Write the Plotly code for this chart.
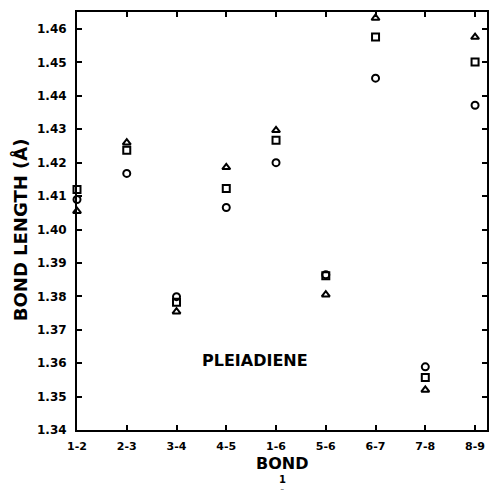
import plotly.graph_objects as go

bonds = ["1-2", "2-3", "3-4", "4-5", "1-6", "5-6", "6-7", "7-8", "8-9"]
circle_vals = [1.409, 1.4168, 1.3799, 1.4066, 1.4200, 1.3865, 1.4453, 1.3589, 1.4372]
square_vals = [1.412, 1.4237, 1.3782, 1.4123, 1.4267, 1.3862, 1.4576, 1.3557, 1.4501]
triangle_vals = [1.4055, 1.426, 1.3754, 1.4186, 1.4297, 1.3805, 1.4633, 1.3520, 1.4576]
y_ticks = [1.34, 1.35, 1.36, 1.37, 1.38, 1.39, 1.40, 1.41, 1.42, 1.43, 1.44, 1.45, 1.46]

xs = list(range(len(bonds)))
FONT = "DejaVu Sans"

fig = go.Figure()
for vals, sym in [(circle_vals, "circle-open"), (square_vals, "square-open"),
                  (triangle_vals, "triangle-up-open")]:
    fig.add_trace(go.Scatter(
        x=xs, y=vals, mode="markers", cliponaxis=False, showlegend=False,
        marker=dict(symbol=sym, size=7, color="black", line=dict(color="black", width=2)),
    ))

fig.update_layout(
    width=490, height=494,
    margin=dict(l=77, r=3, t=12, b=64),
    plot_bgcolor="white", paper_bgcolor="white",
    font=dict(family=FONT, color="black"),
    xaxis=dict(
        range=[0, 8.24], tickvals=xs, ticktext=bonds, automargin=False,
        showgrid=False, zeroline=False, showline=True, linecolor="black", linewidth=2,
        mirror="ticks", ticks="inside", ticklen=5, tickwidth=1.5, tickcolor="black",
        tickfont=dict(size=11, family=FONT, color="black", weight="bold"), ticklabelstandoff=5,
    ),
    yaxis=dict(
        range=[1.34, 1.4651], tickvals=y_ticks, ticktext=[f"{v:.2f}" for v in y_ticks],
        automargin=False,
        showgrid=False, zeroline=False, showline=True, linecolor="black", linewidth=2,
        mirror="ticks", ticks="inside", ticklen=5, tickwidth=1.5, tickcolor="black",
        tickfont=dict(size=12, family=FONT, color="black", weight="bold"), ticklabelstandoff=6,
    ),
    annotations=[
        dict(text="PLEIADIENE", xref="paper", yref="paper", x=0.434, y=0.167,
             yanchor="middle", showarrow=False, font=dict(size=16, family=FONT, weight="bold")),
        dict(text="BOND", xref="paper", yref="paper", x=0.5, y=-0.081,
             yanchor="middle", showarrow=False, font=dict(size=16, family=FONT, weight="bold")),
        dict(text="1", xref="paper", yref="paper", x=0.5, y=-0.1005, yanchor="top",
             showarrow=False, font=dict(size=10, family=FONT, weight="bold")),
        dict(text="~", xref="paper", yref="paper", x=0.5, y=-0.1531, yanchor="bottom",
             showarrow=False, font=dict(size=5, family=FONT)),
        dict(text="BOND LENGTH (Å)", xref="paper", yref="paper", x=-0.139, y=0.478,
             xanchor="center", yanchor="middle",
             textangle=-90, showarrow=False, font=dict(size=18, family=FONT, weight="bold")),
    ],
)

fig.write_html(
    "out.html",
    config={"displayModeBar": False},
    post_script="document.body.style.margin='0';document.body.style.overflow='hidden';",
)
